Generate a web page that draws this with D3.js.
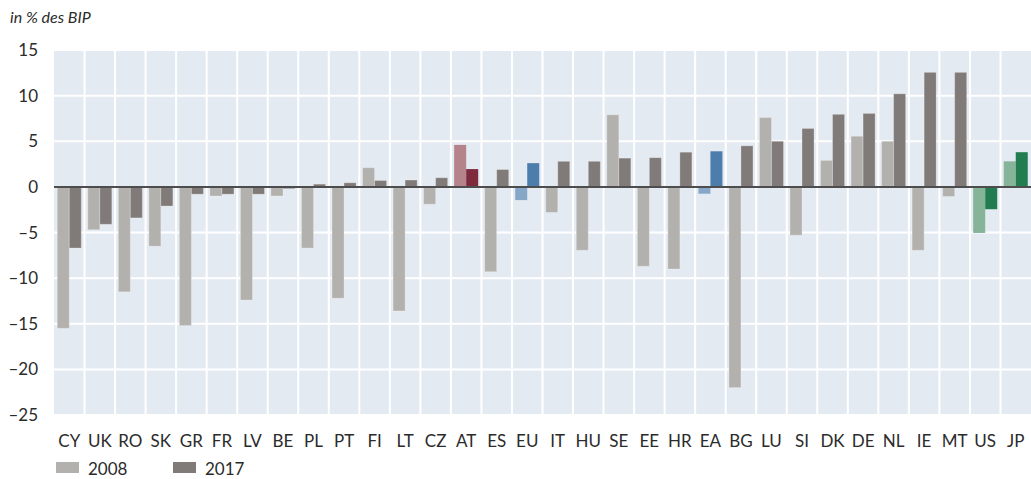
<!DOCTYPE html>
<html lang="de">
<head>
  <meta charset="UTF-8" />
  <title>Leistungsbilanz in % des BIP</title>
  <style>
    body { margin: 0; background: #fff; font-family: 'Lato', 'Open Sans', sans-serif; }
    svg text { fill: #2b2b2b; }
  </style>
</head>
<body>
  <svg id="chart" width="1031" height="479"></svg>

  <script src="https://d3js.org/d3.v7.min.js"></script>
  <script>
    const countries = ["CY","UK","RO","SK","GR","FR","LV","BE","PL","PT","FI","LT","CZ","AT","ES","EU","IT","HU","SE","EE","HR","EA","BG","LU","SI","DK","DE","NL","IE","MT","US","JP"];
    const years = ["2008", "2017"];
    const values2008 = [-15.5,-4.7,-11.5,-6.5,-15.2,-1.0,-12.4,-1.0,-6.7,-12.2,2.1,-13.6,-1.9,4.6,-9.3,-1.45,-2.8,-6.95,7.9,-8.7,-9.0,-0.75,-22.0,7.6,-5.3,2.9,5.55,5.0,-6.95,-1.05,-5.05,2.8];
    const values2017 = [-6.7,-4.1,-3.4,-2.1,-0.8,-0.8,-0.8,-0.2,0.3,0.45,0.7,0.75,1.0,1.95,1.9,2.6,2.8,2.8,3.15,3.2,3.8,3.9,4.5,5.0,6.4,7.95,8.05,10.2,12.55,12.55,-2.45,3.8];
    const yTicks = [15, 10, 5, 0, -5, -10, -15, -20, -25];

    // farbige Hervorhebungen [2008, 2017]
    const highlight = {
      AT: ["#b5838b", "#7d2a3c"],
      EU: ["#86a7c8", "#4c7dab"],
      EA: ["#86a7c8", "#4c7dab"],
      US: ["#86b498", "#217d50"],
      JP: ["#86b498", "#217d50"]
    };
    const greys = ["#b3b1ad", "#807b78"];

    const svg = d3.select("#chart");
    const m = { left: 54, right: 1031, top: 50, bottom: 415 };

    const x = d3.scaleBand().domain(countries).range([m.left, m.right]).paddingInner(0).paddingOuter(0);
    const x1 = d3.scaleBand().domain(years).range([0, x.bandwidth()]).paddingInner(0).paddingOuter(0.27);
    const y = d3.scaleLinear().domain([-25, 15]).range([m.bottom, m.top]);

    // Hintergrund
    svg.append("rect")
      .attr("x", m.left).attr("y", m.top)
      .attr("width", m.right - m.left).attr("height", m.bottom - m.top)
      .attr("fill", "#e4eaf2");

    // Gitter
    svg.append("g").selectAll("line").data(yTicks).join("line")
      .attr("x1", m.left).attr("x2", m.right)
      .attr("y1", d => y(d)).attr("y2", d => y(d))
      .attr("stroke", "#fff").attr("stroke-width", 2);

    svg.append("g").selectAll("line").data(countries.slice(1)).join("line")
      .attr("x1", d => x(d)).attr("x2", d => x(d))
      .attr("y1", m.top).attr("y2", m.bottom)
      .attr("stroke", "#fff").attr("stroke-width", 2);

    // Balken
    const rows = countries.map((c, i) => ({ c, vals: [values2008[i], values2017[i]] }));
    const groups = svg.append("g").selectAll("g").data(rows).join("g")
      .attr("transform", d => `translate(${x(d.c)},0)`);

    groups.selectAll("rect")
      .data(d => d.vals.map((v, k) => ({ c: d.c, year: years[k], k, v })))
      .join("rect")
      .attr("x", d => x1(d.year))
      .attr("width", x1.bandwidth())
      .attr("y", d => y(Math.max(0, d.v)))
      .attr("height", d => Math.abs(y(d.v) - y(0)))
      .attr("fill", d => highlight[d.c] ? highlight[d.c][d.k] : greys[d.k])
      .attr("stroke", d => highlight[d.c] ? "none" : "rgba(255,255,255,0.25)")
      .attr("stroke-width", 1);

    // Nulllinie
    svg.append("line")
      .attr("x1", m.left).attr("x2", m.right)
      .attr("y1", y(0)).attr("y2", y(0))
      .attr("stroke", "#4d4d4d").attr("stroke-width", 2);

    // Y-Achse
    const fmt = d => (d < 0 ? "\u2013" : "") + Math.abs(d);
    svg.append("g").selectAll("text").data(yTicks).join("text")
      .attr("x", 38).attr("y", d => y(d) + 6)
      .attr("text-anchor", "end")
      .style("font-size", "17px")
      .text(fmt);

    // X-Achse
    svg.append("g").selectAll("text").data(countries).join("text")
      .attr("x", d => x(d) + x.bandwidth() / 2)
      .attr("y", 447)
      .attr("text-anchor", "middle")
      .style("font-size", "17px")
      .text(d => d);

    // Einheit
    svg.append("text")
      .attr("x", 10).attr("y", 23)
      .style("font-size", "16px").style("font-style", "italic")
      .text("in % des BIP");

    // Legende
    const legend = svg.append("g").selectAll("g").data(years).join("g")
      .attr("transform", (d, i) => `translate(${56 + i * 117},462)`);
    legend.append("rect").attr("width", 23).attr("height", 11)
      .attr("fill", (d, i) => greys[i]);
    legend.append("text").attr("x", 32).attr("y", 13)
      .style("font-size", "17px").text(d => d);
  </script>
</body>
</html>
